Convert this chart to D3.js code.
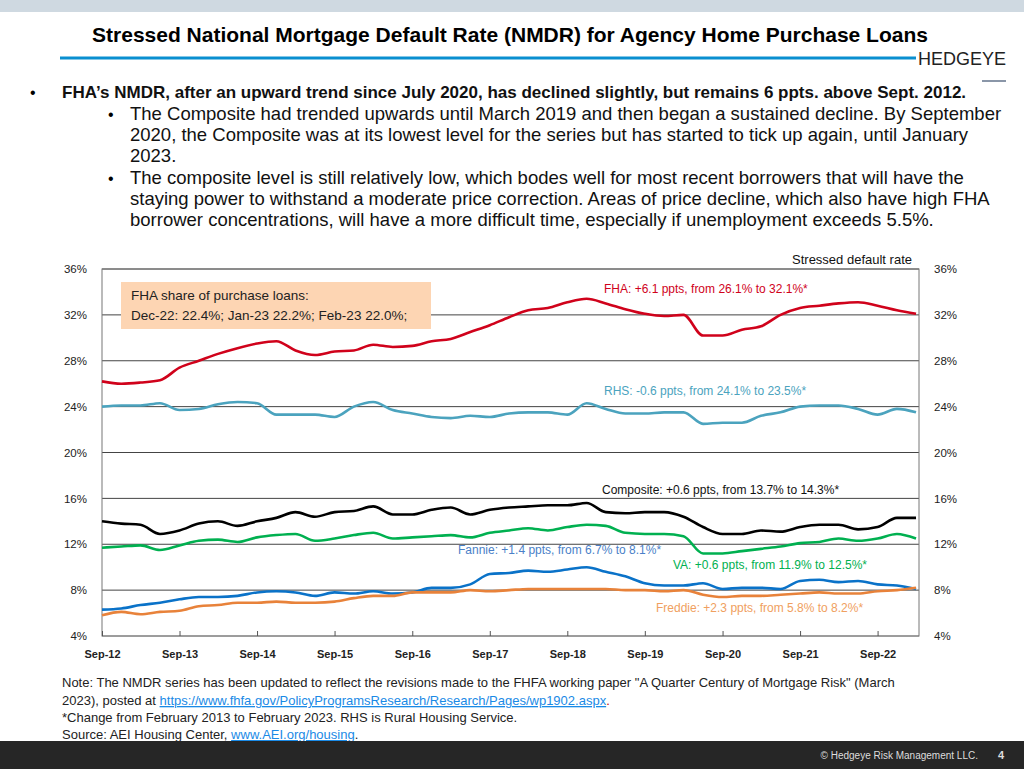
<!DOCTYPE html>
<html>
<head>
<meta charset="utf-8">
<script src="https://cdn.jsdelivr.net/npm/d3@7"></script>
<style>
  body { margin: 0; background: #fff; }
  svg { display: block; }
</style>
</head>
<body>
<svg id="chart" width="1024" height="769"></svg>
<script>
// quarterly readings, Sep-12 .. Mar-23
const startDate = new Date(2012, 8, 1);
const fha = [26.2,26.0,26.1,26.3,27.4,28.0,28.6,29.1,29.5,29.7,28.9,28.5,28.8,28.9,29.4,29.2,29.3,29.7,29.9,30.5,31.1,31.8,32.4,32.6,33.1,33.4,33.0,32.5,32.1,31.9,32.0,30.2,30.2,30.7,31.0,32.0,32.6,32.8,33.0,33.1,32.8,32.4,32.1];
const rhs = [24.0,24.1,24.1,24.3,23.7,23.8,24.2,24.4,24.3,23.3,23.3,23.3,23.1,24.0,24.4,23.7,23.4,23.1,23.0,23.2,23.1,23.4,23.5,23.5,23.3,24.3,23.8,23.4,23.4,23.5,23.5,22.5,22.6,22.6,23.2,23.5,24.0,24.1,24.1,23.8,23.3,23.8,23.5];
const composite = [14.0,13.8,13.7,12.9,13.2,13.8,14.0,13.6,14.0,14.3,14.8,14.4,14.8,14.9,15.3,14.6,14.6,15.0,15.2,14.6,15.0,15.2,15.3,15.4,15.4,15.6,14.8,14.7,14.8,14.8,14.4,13.5,12.9,12.9,13.2,13.1,13.5,13.7,13.7,13.3,13.5,14.3,14.3];
const va = [11.7,11.8,11.9,11.5,11.9,12.3,12.4,12.2,12.6,12.8,12.9,12.3,12.5,12.8,13.0,12.5,12.6,12.7,12.8,12.6,13.0,13.2,13.4,13.2,13.5,13.7,13.6,13.0,12.9,12.9,12.7,11.2,11.2,11.4,11.6,11.8,12.1,12.2,12.5,12.3,12.5,12.9,12.5];
const fannie = [6.3,6.4,6.7,6.9,7.2,7.4,7.4,7.5,7.8,7.9,7.8,7.5,7.8,7.7,7.9,7.7,7.8,8.2,8.2,8.5,9.4,9.5,9.7,9.6,9.8,10.0,9.6,9.2,8.6,8.4,8.4,8.6,8.1,8.2,8.2,8.1,8.8,8.9,8.7,8.8,8.5,8.4,8.1];
const freddie = [5.8,6.1,5.9,6.1,6.2,6.6,6.7,6.9,6.9,7.0,6.9,6.9,7.0,7.3,7.5,7.5,7.8,7.8,7.8,8.0,7.9,8.0,8.1,8.1,8.1,8.1,8.1,8.0,8.0,7.9,8.0,7.6,7.4,7.5,7.5,7.6,7.7,7.8,7.7,7.7,7.9,8.0,8.2];
const yTicks = [4, 8, 12, 16, 20, 24, 28, 32, 36];
const xTickYears = [2012,2013,2014,2015,2016,2017,2018,2019,2020,2021,2022];

const series = [
  { name: "FHA", values: fha, color: "#d0021b", label: "FHA: +6.1 ppts, from 26.1% to 32.1%*", lx: 604, ly: 293, lc: "#d0021b" },
  { name: "RHS", values: rhs, color: "#4ba3be", label: "RHS: -0.6 ppts, from 24.1% to 23.5%*", lx: 604, ly: 395, lc: "#4ba3be" },
  { name: "Composite", values: composite, color: "#000", label: "Composite: +0.6 ppts, from 13.7% to 14.3%*", lx: 602, ly: 494, lc: "#111" },
  { name: "VA", values: va, color: "#00b050", label: "VA: +0.6 ppts, from 11.9% to 12.5%*", lx: 673, ly: 569, lc: "#00b050" },
  { name: "Fannie", values: fannie, color: "#0a72c8", label: "Fannie: +1.4 ppts, from 6.7% to 8.1%*", lx: 458, ly: 554, lc: "#4a7fc8" },
  { name: "Freddie", values: freddie, color: "#e8823a", label: "Freddie: +2.3 ppts, from 5.8% to 8.2%*", lx: 656, ly: 612, lc: "#f0a060" }
];

const svg = d3.select("#chart");
const narrow = "'Liberation Sans Narrow', 'Liberation Sans', Arial, sans-serif";
const arial = "'Liberation Sans', Arial, sans-serif";

// page frame
svg.append("rect").attr("x", 0).attr("y", 0).attr("width", 1024).attr("height", 12).attr("fill", "#cfd9e1");
svg.append("text").attr("x", 510).attr("y", 42).attr("text-anchor", "middle")
  .attr("font-family", narrow).attr("font-weight", "bold").attr("font-size", 21).attr("fill", "#000")
  .text("Stressed National Mortgage Default Rate (NMDR) for Agency Home Purchase Loans");
svg.append("line").attr("x1", 60).attr("x2", 916).attr("y1", 58).attr("y2", 58).attr("stroke", "#0a8fd0").attr("stroke-width", 3);
svg.append("text").attr("x", 1006).attr("y", 65).attr("text-anchor", "end")
  .attr("font-family", narrow).attr("font-size", 18).attr("fill", "#222").text("HEDGEYE");
svg.append("line").attr("x1", 982).attr("x2", 1006).attr("y1", 81).attr("y2", 81).attr("stroke", "#8a96a8").attr("stroke-width", 2);

const bullets = [
  { y: 98, lines: ["FHA\u2019s NMDR, after an upward trend since July 2020, has declined slightly, but remains 6 ppts. above Sept. 2012."] },
  { y: 120, lines: ["The Composite had trended upwards until March 2019 and then began a sustained decline. By September", "2020, the Composite was at its lowest level for the series but has started to tick up again, until January", "2023."] },
  { y: 184, lines: ["The composite level is still relatively low, which bodes well for most recent borrowers that will have the", "staying power to withstand a moderate price correction. Areas of price decline, which also have high FHA", "borrower concentrations, will have a more difficult time, especially if unemployment exceeds 5.5%."] }
];
bullets.forEach((b, i) => {
  svg.append("text").attr("x", i === 0 ? 30 : 108).attr("y", b.y).attr("font-family", arial).attr("font-size", 16).text("\u2022");
  b.lines.forEach((ln, j) => {
    svg.append("text").attr("x", i === 0 ? 62 : 130).attr("y", b.y + j * 21)
      .attr("font-family", narrow).attr("font-size", i === 0 ? 17 : 18.5)
      .attr("font-weight", i === 0 ? "bold" : "normal").attr("fill", "#111").text(ln);
  });
});

// chart
const margin = { left: 102, right: 919, top: 269, bottom: 636 };
const dates = fha.map((d, i) => d3.timeMonth.offset(startDate, i * 3));
const x = d3.scaleTime().domain([startDate, new Date(2023, 2, 15)]).range([margin.left, margin.right]);
const y = d3.scaleLinear().domain([4, 36]).range([margin.bottom, margin.top]);

const g = svg.append("g");
g.selectAll(".grid").data(yTicks).enter().append("line")
  .attr("x1", margin.left).attr("x2", margin.right)
  .attr("y1", d => y(d)).attr("y2", d => y(d))
  .attr("stroke", d => d === 4 ? "#888" : "#444").attr("stroke-width", 1);
g.append("rect").attr("x", margin.left).attr("y", margin.top)
  .attr("width", margin.right - margin.left).attr("height", margin.bottom - margin.top)
  .attr("fill", "none").attr("stroke", "#777");

const fmtPct = d => d + "%";
const yl = svg.append("g").attr("transform", `translate(${margin.left - 12},0)`)
  .call(d3.axisLeft(y).tickValues(yTicks).tickFormat(fmtPct).tickSize(0));
const yr = svg.append("g").attr("transform", `translate(${margin.right + 12},0)`)
  .call(d3.axisRight(y).tickValues(yTicks).tickFormat(fmtPct).tickSize(0));
[yl, yr].forEach(a => {
  a.select(".domain").remove();
  a.selectAll("text").attr("font-family", arial).attr("font-size", 11.5).attr("fill", "#222");
});

const xTicks = xTickYears.map(yv => new Date(yv, 8, 1));
const xa = svg.append("g").attr("transform", `translate(0,${margin.bottom})`)
  .call(d3.axisBottom(x).tickValues(xTicks).tickFormat(d3.timeFormat("Sep-%y")).tickSizeInner(-5).tickSizeOuter(0).tickPadding(14));
xa.select(".domain").remove();
xa.selectAll("line").attr("stroke", "#555");
xa.selectAll("text").attr("font-family", arial).attr("font-size", 11).attr("font-weight", "bold").attr("fill", "#222");

svg.append("text").attr("x", 912).attr("y", 264).attr("text-anchor", "end")
  .attr("font-family", narrow).attr("font-size", 13).attr("fill", "#111").text("Stressed default rate");

const line = d3.line().x((d, i) => x(dates[i])).y(d => y(d)).curve(d3.curveMonotoneX);
series.forEach(s => {
  svg.append("path").datum(s.values).attr("d", line)
    .attr("fill", "none").attr("stroke", s.color).attr("stroke-width", 2.6).attr("stroke-linejoin", "round");
  svg.append("text").attr("x", s.lx).attr("y", s.ly)
    .attr("font-family", arial).attr("font-size", 12).attr("fill", s.lc).text(s.label);
});

// annotation box
svg.append("rect").attr("x", 121).attr("y", 282).attr("width", 310).attr("height", 47).attr("fill", "#fdd5b3");
svg.append("text").attr("x", 131).attr("y", 300).attr("font-family", narrow).attr("font-size", 13.5).attr("fill", "#222").text("FHA share of purchase loans:");
svg.append("text").attr("x", 131).attr("y", 320).attr("font-family", narrow).attr("font-size", 13.5).attr("fill", "#222").text("Dec-22: 22.4%; Jan-23 22.2%; Feb-23 22.0%;");

// notes
const notes = svg.append("g").attr("font-family", narrow).attr("font-size", 13).attr("fill", "#222");
notes.append("text").attr("x", 62).attr("y", 687)
  .text("Note: The NMDR series has been updated to reflect the revisions made to the FHFA working paper \"A Quarter Century of Mortgage Risk\" (March");
const n2 = notes.append("text").attr("x", 62).attr("y", 705);
n2.append("tspan").text("2023), posted at ");
n2.append("tspan").attr("fill", "#1a8ae6").attr("text-decoration", "underline").text("https://www.fhfa.gov/PolicyProgramsResearch/Research/Pages/wp1902.aspx");
n2.append("tspan").attr("fill", "#c00").text(".");
notes.append("text").attr("x", 62).attr("y", 722).text("*Change from February 2013 to February 2023. RHS is Rural Housing Service.");
const n4 = notes.append("text").attr("x", 62).attr("y", 739);
n4.append("tspan").text("Source: AEI Housing Center, ");
n4.append("tspan").attr("fill", "#1a8ae6").attr("text-decoration", "underline").text("www.AEI.org/housing");
n4.append("tspan").text(".");

// footer
svg.append("rect").attr("x", 0).attr("y", 741).attr("width", 1024).attr("height", 28).attr("fill", "#262626");
svg.append("text").attr("x", 978).attr("y", 759).attr("text-anchor", "end").attr("font-family", narrow)
  .attr("font-size", 10).attr("fill", "#ddd").text("\u00a9 Hedgeye Risk Management LLC.");
svg.append("text").attr("x", 1004).attr("y", 759).attr("text-anchor", "end").attr("font-family", arial)
  .attr("font-size", 11).attr("font-weight", "bold").attr("fill", "#ddd").text("4");
</script>
</body>
</html>
